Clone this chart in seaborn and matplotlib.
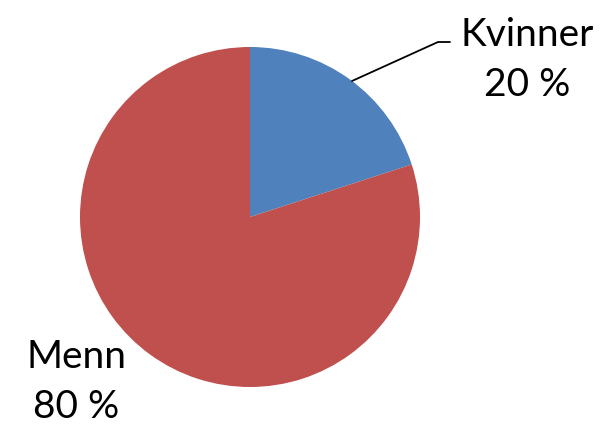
import matplotlib
matplotlib.use("Agg")
import matplotlib.pyplot as plt
import seaborn as sns

categories = ["Kvinner", "Menn"]
shares = [20, 80]
colors = ["#4F81BD", "#C0504D"]

sns.set_theme(style="white")
plt.rcParams['font.family'] = ['Lato', 'DejaVu Sans']

fig = plt.figure(figsize=(6.04, 4.26), dpi=100)
ax = fig.add_axes([0, 0, 1, 1])

# pie in pixel coordinates (y axis flipped, so go counterclockwise to look clockwise)
ax.pie(shares, colors=colors, startangle=-90, counterclock=True,
       center=(250, 217), radius=170, frame=True,
       wedgeprops=dict(linewidth=0))
ax.set_xlim(0, 604)
ax.set_ylim(426, 0)
ax.set_aspect('equal')
ax.axis('off')

ax.text(527, 60, f"{categories[0]}\n{shares[0]} %", ha='center', va='center',
        fontsize=28, linespacing=1.45, color='black')
ax.plot([352, 438, 450], [81, 42, 42], color='black', linewidth=1.3)

ax.text(76, 382, f"{categories[1]}\n{shares[1]} %", ha='center', va='center',
        fontsize=28, linespacing=1.45, color='black')

fig.savefig("out.png", dpi=100)
